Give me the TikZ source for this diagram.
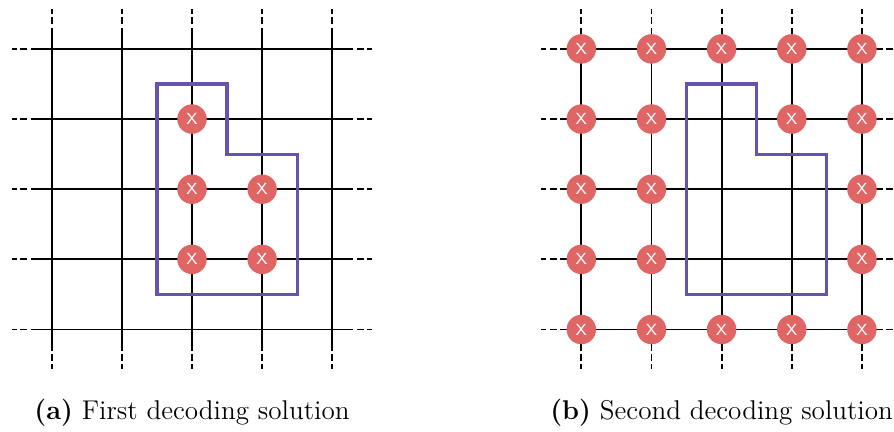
\documentclass[tikz,border=0pt]{standalone}
\usepackage{tikz}
\usetikzlibrary{positioning}
\definecolor{errred}{RGB}{224,102,102}
\definecolor{lilac}{RGB}{103,83,172}
\tikzset{
  grid line/.style={black,line width=0.8pt},
  grid ext/.style={black,line width=0.8pt,dash pattern=on 2.8pt off 1.4pt,dash phase=2.8pt},
  err/.style={circle,fill=errred,text=white,inner sep=0pt,minimum size=4.2mm,
    font=\sffamily\fontsize{6.5}{7}\selectfont},
  boundary/.style={draw=lilac,line width=1.3pt},
  caption/.style={font=\fontsize{11}{13}\selectfont},
}
\begin{document}
\begin{tikzpicture}
        \useasboundingbox (-0.737,-1.461) rectangle (12.007,4.697);
        \clip (-0.737,-1.461) rectangle (12.007,4.697);
        % two lattices, a and b
        \foreach \g/\ox in {a/0,b/7.55}{
          \foreach \i in {0,...,4}{\foreach \j in {0,...,4}{\coordinate (\g-\i-\j) at (\ox+\i,\j);}}
          \foreach \i in {0,...,4}{
            \draw[grid line] ([yshift=-3mm]\g-\i-0) -- ([yshift=3mm]\g-\i-4);
            \draw[grid ext] ([yshift=3mm]\g-\i-4) -- ([yshift=5.7mm]\g-\i-4);
            \draw[grid ext] ([yshift=-3mm]\g-\i-0) -- ([yshift=-5.7mm]\g-\i-0);
            \draw[grid line] ([xshift=-3mm]\g-0-\i) -- ([xshift=3mm]\g-4-\i);
            \draw[grid ext] ([xshift=3mm]\g-4-\i) -- ([xshift=5.7mm]\g-4-\i);
            \draw[grid ext] ([xshift=-3mm]\g-0-\i) -- ([xshift=-5.7mm]\g-0-\i);
          }
          \draw[boundary] (\ox+1.5,3.5) -- (\ox+2.5,3.5) -- (\ox+2.5,2.5) -- (\ox+3.5,2.5)
            -- (\ox+3.5,0.5) -- (\ox+1.5,0.5) -- cycle;
        }
        % errors, first solution
        \foreach \i/\j in {2/3,2/2,3/2,2/1,3/1}
          \node[err] (ea-\i-\j) at (a-\i-\j) {X};
        % errors, second solution
        \foreach \i/\j in {0/4,1/4,2/4,3/4,4/4,0/3,1/3,3/3,4/3,0/2,1/2,4/2,0/1,1/1,4/1,0/0,1/0,2/0,3/0,4/0}
          \node[err] (eb-\i-\j) at (b-\i-\j) {X};
        \node[caption] (capa) at (2,-1.18) {\textbf{(a)}\ First decoding solution};
        \node[caption] (capb) at (9.55,-1.18) {\textbf{(b)}\ Second decoding solution};
      \end{tikzpicture}
\end{document}
